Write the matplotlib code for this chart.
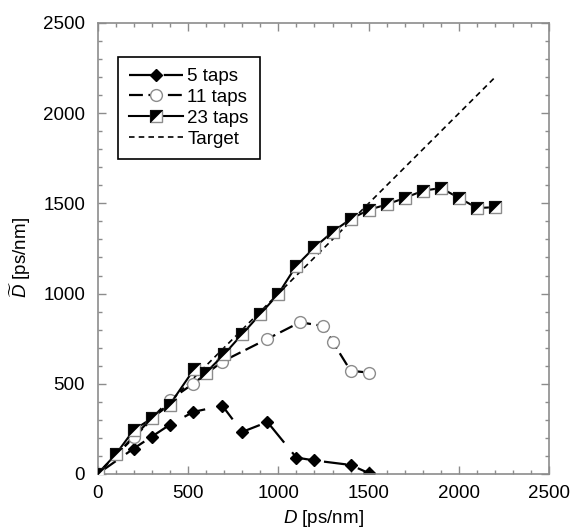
import numpy as np
import matplotlib
matplotlib.use("Agg")
import matplotlib.pyplot as plt
from matplotlib.lines import Line2D
from matplotlib.ticker import MultipleLocator

plt.rcParams['font.family'] = ['Liberation Sans', 'DejaVu Sans']
plt.rcParams['mathtext.fontset'] = 'custom'
plt.rcParams['mathtext.rm'] = 'Liberation Sans'
plt.rcParams['mathtext.it'] = 'Liberation Sans:italic'
plt.rcParams['lines.scale_dashes'] = False

# ---- data: input dispersion D vs. compensated dispersion D~ ----
d_5 = [0, 200, 300, 400, 530, 690, 800, 940, 1100, 1200, 1400, 1500]
dt_5 = [0, 141, 207, 273, 344, 379, 233, 288, 91, 75, 50, 5]

d_11 = [0, 200, 400, 530, 690, 940, 1120, 1250, 1300, 1400, 1500]
dt_11 = [0, 207, 410, 501, 623, 749, 841, 820, 734, 572, 562]

d_23 = [0, 100, 200, 300, 400, 535, 600, 700, 800, 900, 1000, 1100, 1200,
        1300, 1400, 1500, 1600, 1700, 1800, 1900, 2000, 2100, 2200]
dt_23 = [0, 108, 243, 309, 385, 582, 562, 663, 775, 886, 998, 1155, 1256,
         1342, 1413, 1464, 1494, 1530, 1570, 1585, 1530, 1474, 1479]

d_target = [0, 2200]

grey = '#8c8c8c'
fs = 13.5
# upper-left half of a square, drawn over the open square
tri_ul = [(-1, 1), (1, 1), (-1, -1), (-1, 1)]

fig = plt.figure(figsize=(5.75, 5.29), dpi=100)
ax = fig.add_axes([0.1696, 0.104, 0.786, 0.8526])

ax.plot(d_target, d_target, color='black', lw=1.2, dashes=(4, 3), zorder=1)

l5, = ax.plot(d_5, dt_5, color='black', lw=1.6, dashes=(16, 9),
              marker='D', ms=6, mfc='black', mec='black', zorder=2)
l11, = ax.plot(d_11, dt_11, color='black', lw=1.6, dashes=(10, 4),
               marker='o', ms=8.5, mfc='white', mec=grey, mew=1.0, zorder=3)
l23, = ax.plot(d_23, dt_23, color='black', lw=1.5,
               marker='s', ms=8.8, mfc='white', mec=grey, mew=1.0, zorder=4)
t23, = ax.plot(d_23, dt_23, ls='none', marker=tri_ul, ms=8.8,
               mfc='black', mec='black', mew=0.5, zorder=5)

ax.set_xlim(0, 2500)
ax.set_ylim(0, 2500)
ax.xaxis.set_major_locator(MultipleLocator(500))
ax.yaxis.set_major_locator(MultipleLocator(500))
ax.xaxis.set_minor_locator(MultipleLocator(100))
ax.yaxis.set_minor_locator(MultipleLocator(100))
ax.tick_params(which='both', direction='in', top=True, right=True,
               color=grey, labelsize=fs, width=1)
ax.tick_params(which='major', length=6)
ax.tick_params(which='minor', length=3)
ax.tick_params(axis='x', pad=8)
ax.tick_params(axis='y', pad=9)
for sp in ax.spines.values():
    sp.set_color(grey)
    sp.set_linewidth(1.2)

ax.set_xlabel(r'$D$ [ps/nm]', fontsize=fs)
ax.set_ylabel(r'$\widetilde{D}$ [ps/nm]', fontsize=fs)
ax.xaxis.set_label_coords(0.5, -0.076)
ax.yaxis.set_label_coords(-0.143, 0.48)

leg = ax.legend([l5, l11, (l23, t23),
                 Line2D([], [], color='black', lw=1.2, dashes=(4, 3))],
                ['5 taps', '11 taps', '23 taps', 'Target'],
                loc='upper left', bbox_to_anchor=(0.045, 0.925),
                fontsize=fs, frameon=True, fancybox=False, edgecolor='black',
                framealpha=1, handlelength=2.9, handletextpad=0.2,
                labelspacing=0.2, borderpad=0.6, borderaxespad=0)
leg.get_frame().set_linewidth(1.2)

fig.savefig('out.png', dpi=100)
